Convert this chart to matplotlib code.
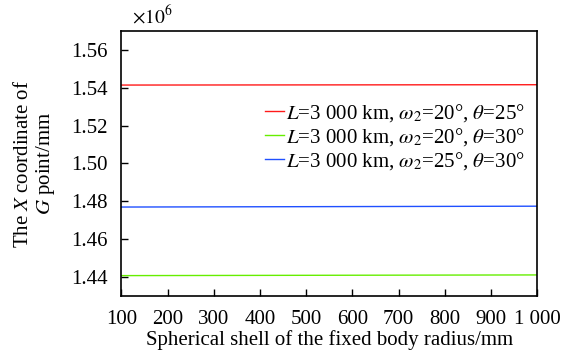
import matplotlib
matplotlib.use("Agg")
import matplotlib.pyplot as plt
from matplotlib.ticker import FuncFormatter

# data
radius = [100, 200, 300, 400, 500, 600, 700, 800, 900, 1000]
x_red = [1.54140e6, 1.54142e6, 1.54144e6, 1.54146e6, 1.54148e6,
         1.54150e6, 1.54152e6, 1.54154e6, 1.54156e6, 1.54158e6]
x_green = [1.44080e6, 1.44084e6, 1.44088e6, 1.44092e6, 1.44096e6,
           1.44100e6, 1.44104e6, 1.44108e6, 1.44112e6, 1.44116e6]
x_blue = [1.47700e6, 1.47705e6, 1.47710e6, 1.47715e6, 1.47720e6,
          1.47725e6, 1.47730e6, 1.47735e6, 1.47740e6, 1.47745e6]
labels = [r"$L$=3 000 km, $\omega_2$=20°, $\theta$=25°",
          r"$L$=3 000 km, $\omega_2$=20°, $\theta$=30°",
          r"$L$=3 000 km, $\omega_2$=25°, $\theta$=30°"]
xticks = [100, 200, 300, 400, 500, 600, 700, 800, 900, 1000]
xticklabels = ["100", "200", "300", "400", "500", "600", "700", "800", "900", "1 000"]
yticks = [1.44e6, 1.46e6, 1.48e6, 1.50e6, 1.52e6, 1.54e6, 1.56e6]

plt.rcParams['font.family'] = ['Liberation Serif', 'DejaVu Serif']
plt.rcParams['mathtext.fontset'] = 'stix'
plt.rcParams['font.size'] = 15

fig = plt.figure(figsize=(5.62, 3.55), dpi=100)
ax = fig.add_axes([0.216, 0.166, 0.740, 0.747])

ax.plot(radius, x_red, color='#ff1a1a', lw=1.0, label=labels[0])
ax.plot(radius, x_green, color='#66ee00', lw=1.0, label=labels[1])
ax.plot(radius, x_blue, color='#2050ff', lw=1.0, label=labels[2])

ax.set_xlim(100, 1000)
ax.set_ylim(1.43e6, 1.57e6)
ax.set_xticks(xticks)
ax.set_xticklabels(xticklabels)
ax.set_yticks(yticks)
ax.yaxis.set_major_formatter(FuncFormatter(lambda v, p: "%.2f" % (v / 1e6)))
fig.text(0.235, 0.925, r"$\times 10^6$", fontsize=14, ha='left', va='bottom')

ax.tick_params(direction='in', length=5, width=1, labelsize=15)
ax.tick_params(axis='y', pad=10)
ax.tick_params(axis='x', pad=10)
for s in ax.spines.values():
    s.set_linewidth(1.2)

ax.set_xlabel("Spherical shell of the fixed body radius/mm", fontsize=15, labelpad=1)
ax.set_ylabel("The $X$ coordinate of\n$G$ point/mm", fontsize=15, labelpad=10, linespacing=1.05)

ax.legend(loc='upper right', bbox_to_anchor=(1.0, 0.78), frameon=False, fontsize=15,
          handlelength=0.9, handletextpad=0.1, labelspacing=0.1, borderaxespad=0.2)

fig.savefig("out.png", dpi=100)
